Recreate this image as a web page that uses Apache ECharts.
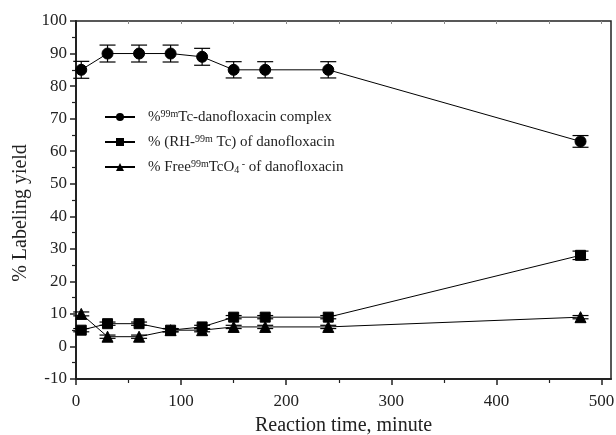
<!DOCTYPE html>
<html><head><meta charset="utf-8">
<script src="https://cdn.jsdelivr.net/npm/echarts@6/dist/echarts.min.js"></script>
<style>html,body{margin:0;padding:0;background:#fff}#c{width:616px;height:435px}</style>
</head><body><div id="c"></div>
<script>
const times = [5, 30, 60, 90, 120, 150, 180, 240, 480];
const complexVals = [85, 90, 90, 90, 89, 85, 85, 85, 63];
const complexErr = [2.6, 2.6, 2.6, 2.6, 2.6, 2.5, 2.5, 2.5, 1.8];
const rhVals = [5, 7, 7, 5, 6, 9, 9, 9, 28];
const rhErr = [0.5, 0.5, 0.5, 0.5, 0.5, 0.5, 0.5, 0.5, 1.3];
const freeVals = [10, 3, 3, 5, 5, 6, 6, 6, 9];
const freeErr = [0.6, 0.5, 0.5, 0.5, 0.5, 0.5, 0.5, 0.5, 0.5];
const xMajor = [0, 100, 200, 300, 400, 500];
const xMinor = [50, 150, 250, 350, 450];
const xTop = [50, 100, 150, 200, 250, 300, 350, 400, 450, 500];
const names = ['c', 'r', 'f'];

const font = 'Liberation Serif';
function pairs(v){ return times.map((t,i)=>[t, v[i]]); }
function errData(v,e){ return times.map((t,i)=>[t, v[i]-e[i], v[i]+e[i]]); }
function errSeries(v,e,name){
  return {
    type:'custom', name:name+'_err', xAxisIndex:0, yAxisIndex:0, z:1,
    data: errData(v,e),
    renderItem:function(params, api){
      const x = api.value(0), lo = api.value(1), hi = api.value(2);
      const p1 = api.coord([x, lo]), p2 = api.coord([x, hi]);
      const w = 8;
      const st = {stroke:'#000', lineWidth:1.2};
      return {type:'group', children:[
        {type:'line', shape:{x1:p1[0], y1:p1[1], x2:p2[0], y2:p2[1]}, style:st},
        {type:'line', shape:{x1:p1[0]-w, y1:p1[1], x2:p1[0]+w, y2:p1[1]}, style:st},
        {type:'line', shape:{x1:p2[0]-w, y1:p2[1], x2:p2[0]+w, y2:p2[1]}, style:st}
      ]};
    }
  };
}
function lineSeries(v, name, sym, size){
  return {type:'line', name:name, data:pairs(v), symbol:sym, symbolSize:size, z:3,
    lineStyle:{color:'#000', width:1}, itemStyle:{color:'#000', borderColor:'#000'},
    showAllSymbol:true, animation:false};
}
const rich = {
  t:{fontFamily:font, fontSize:15, color:'#222', verticalAlign:'bottom'},
  sup:{fontFamily:font, fontSize:10, color:'#222', verticalAlign:'top', padding:[0,0,6,0]},
  sub:{fontFamily:font, fontSize:10, color:'#222', verticalAlign:'bottom', padding:[5,0,0,0]}
};
const labels = {
  c:'{t|%}{sup|99m}{t|Tc-danofloxacin complex}',
  r:'{t|% (RH-}{sup|99m}{t| Tc) of danofloxacin}',
  f:'{t|% Free}{sup|99m}{t|TcO}{sub|4}{sup| -}{t| of danofloxacin}'
};
const chart = echarts.init(document.getElementById('c'));
chart.setOption({
  animation:false,
  backgroundColor:'#fff',
  grid:{left:76, right:5, top:21, bottom:56, show:true, borderColor:'#222', borderWidth:1.5,
    backgroundColor:'transparent', containLabel:false, outerBoundsMode:'none'},
  legend:{
    data:names, orient:'vertical', left:99, top:104, itemGap:9, itemWidth:30, itemHeight:10,
    formatter:function(n){ return labels[n]; },
    textStyle:{rich:rich, fontFamily:font, fontSize:15, padding:[0,0,0,8]}
  },
  xAxis:[
    {type:'value', min:0, max:509, position:'bottom',
      name:'Reaction time, minute', nameLocation:'middle', nameGap:37,
      nameTextStyle:{fontFamily:font, fontSize:20, color:'#222'},
      axisLine:{onZero:false, lineStyle:{color:'#222', width:2}},
      axisTick:{customValues:xMajor, length:6, inside:false, lineStyle:{color:'#222', width:1.5}},
      axisLabel:{customValues:xMajor, fontFamily:font, fontSize:17, color:'#222', margin:14},
      splitLine:{show:false}},
    {type:'value', min:0, max:509, position:'bottom', gridIndex:0,
      axisLine:{show:false, onZero:false}, axisLabel:{show:false}, splitLine:{show:false},
      axisTick:{customValues:xMinor, length:4, lineStyle:{color:'#222', width:1.2}}},
    {type:'value', min:0, max:509, position:'top', gridIndex:0,
      axisLine:{show:false, onZero:false}, axisLabel:{show:false}, splitLine:{show:false},
      axisTick:{customValues:xTop, length:3, inside:true, lineStyle:{color:'#888', width:1}}}
  ],
  yAxis:{type:'value', min:-10, max:100, interval:10,
    name:'% Labeling yield', nameLocation:'middle', nameGap:44, nameRotate:90,
    nameTextStyle:{fontFamily:font, fontSize:20, color:'#222', padding:[0,26,0,0]},
    axisLine:{onZero:false, lineStyle:{color:'#222', width:2}},
    axisTick:{length:6, lineStyle:{color:'#222', width:1.5}},
    minorTick:{show:true, splitNumber:2, length:4, lineStyle:{color:'#222', width:1.2}},
    axisLabel:{fontFamily:font, fontSize:17, color:'#222', margin:9},
    splitLine:{show:false}},
  series:[
    errSeries(complexVals, complexErr, 'c'),
    errSeries(rhVals, rhErr, 'r'),
    errSeries(freeVals, freeErr, 'f'),
    lineSeries(complexVals, 'c', 'circle', 11),
    lineSeries(rhVals, 'r', 'rect', 10),
    lineSeries(freeVals, 'f', 'triangle', 11)
  ]
});
</script></body></html>
